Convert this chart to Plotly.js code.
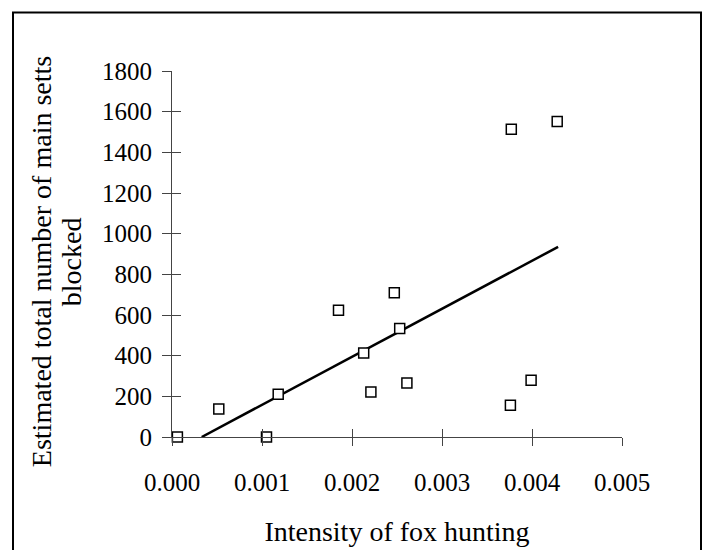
<!DOCTYPE html>
<html>
<head>
<meta charset="utf-8">
<script src="https://cdn.plot.ly/plotly-3.0.1.min.js"></script>
<style>
html,body{margin:0;padding:0;background:#fff;overflow:hidden;}
#chart{width:706px;height:550px;}
</style>
</head>
<body>
<div id="chart"></div>
<script>
// Data
const huntIntensity = [0.00006, 0.00052, 0.00105, 0.00118, 0.00185, 0.00213, 0.00221, 0.00247, 0.00253, 0.00261, 0.00376, 0.00377, 0.00399, 0.00428];
const settsBlocked  = [0, 138, 0, 210, 623, 413, 221, 709, 533, 266, 156, 1513, 279, 1552];
const fitX = [0.00033, 0.00429];
const fitY = [0, 935];
const xTickVals = [0, 0.001, 0.002, 0.003, 0.004, 0.005];
const xTickText = ["0.000", "0.001", "0.002", "0.003", "0.004", "0.005"];
const yTickVals = [0, 200, 400, 600, 800, 1000, 1200, 1400, 1600, 1800];
const yTitleLines = ["Estimated total number of main setts", "blocked"];

const FONT = "Liberation Serif, Times New Roman, serif";

const traces = [
  {x: fitX, y: fitY, mode: 'lines', type: 'scatter',
   line: {color: '#000', width: 2.5}, hoverinfo: 'skip', showlegend: false},
  {x: huntIntensity, y: settsBlocked, mode: 'markers', type: 'scatter',
   marker: {symbol: 'square', size: 10, color: '#fff', line: {color: '#000', width: 1.5}},
   showlegend: false, cliponaxis: false},
  {x: [0], y: [0], xaxis: 'x2', yaxis: 'y2', mode: 'markers', type: 'scatter',
   marker: {opacity: 0}, hoverinfo: 'skip', showlegend: false}
];

const axisCommon = {
  showgrid: false, zeroline: false, fixedrange: true
};

const L = 172, PW = 450, T = 71, PH = 365.7;
const px2x = p => (p - L) / PW;
const py2y = p => (T + PH - p) / PH;

const layout = {
  width: 706, height: 550,
  margin: {l: 172, r: 84, t: 71, b: 113, pad: 0},
  paper_bgcolor: '#fff', plot_bgcolor: '#fff',
  font: {family: FONT, color: '#000', size: 25},
  showlegend: false,
  xaxis: Object.assign({}, axisCommon, {
    range: [0, 0.005], tickvals: xTickVals, ticktext: xTickText,
    ticks: 'outside', ticklen: 8, tickwidth: 1, tickcolor: '#444',
    showline: true, linecolor: '#444', linewidth: 1,
    ticklabelstandoff: 15,
    tickfont: {family: FONT, size: 25, color: '#000'},
    title: {text: 'Intensity of fox hunting', font: {family: FONT, size: 28, color: '#000'}, standoff: 26},
    automargin: false
  }),
  yaxis: Object.assign({}, axisCommon, {
    range: [0, 1800], tickvals: yTickVals,
    ticks: 'outside', ticklen: 9, tickwidth: 1, tickcolor: '#444',
    showline: true, linecolor: '#444', linewidth: 1,
    ticklabelstandoff: 5,
    tickfont: {family: FONT, size: 25, color: '#000'},
    automargin: false
  }),
  xaxis2: Object.assign({}, axisCommon, {
    overlaying: 'x', anchor: 'y2', side: 'bottom', range: [0, 0.005], tickvals: xTickVals,
    ticks: 'inside', ticklen: 8, tickwidth: 1, tickcolor: '#444',
    showticklabels: false, showline: false
  }),
  yaxis2: Object.assign({}, axisCommon, {
    overlaying: 'y', anchor: 'x2', side: 'left', range: [0, 1800], tickvals: yTickVals,
    ticks: 'inside', ticklen: 9, tickwidth: 1, tickcolor: '#444',
    showticklabels: false, showline: false
  }),
  annotations: [
    {text: yTitleLines[0], xref: 'paper', yref: 'paper', x: px2x(41), y: py2y(262),
     xanchor: 'center', yanchor: 'middle', textangle: -90, showarrow: false,
     font: {family: FONT, size: 28, color: '#000'}},
    {text: yTitleLines[1], xref: 'paper', yref: 'paper', x: px2x(71), y: py2y(262),
     xanchor: 'center', yanchor: 'middle', textangle: -90, showarrow: false,
     font: {family: FONT, size: 28, color: '#000'}}
  ],
  shapes: [
    {type: 'rect', xref: 'paper', yref: 'paper',
     x0: px2x(13), x1: px2x(701),
     y0: py2y(600), y1: py2y(12.5),
     line: {color: '#000', width: 2}, fillcolor: 'rgba(0,0,0,0)', layer: 'above'}
  ]
};

Plotly.newPlot('chart', traces, layout, {displayModeBar: false, staticPlot: true});
</script>
</body>
</html>
